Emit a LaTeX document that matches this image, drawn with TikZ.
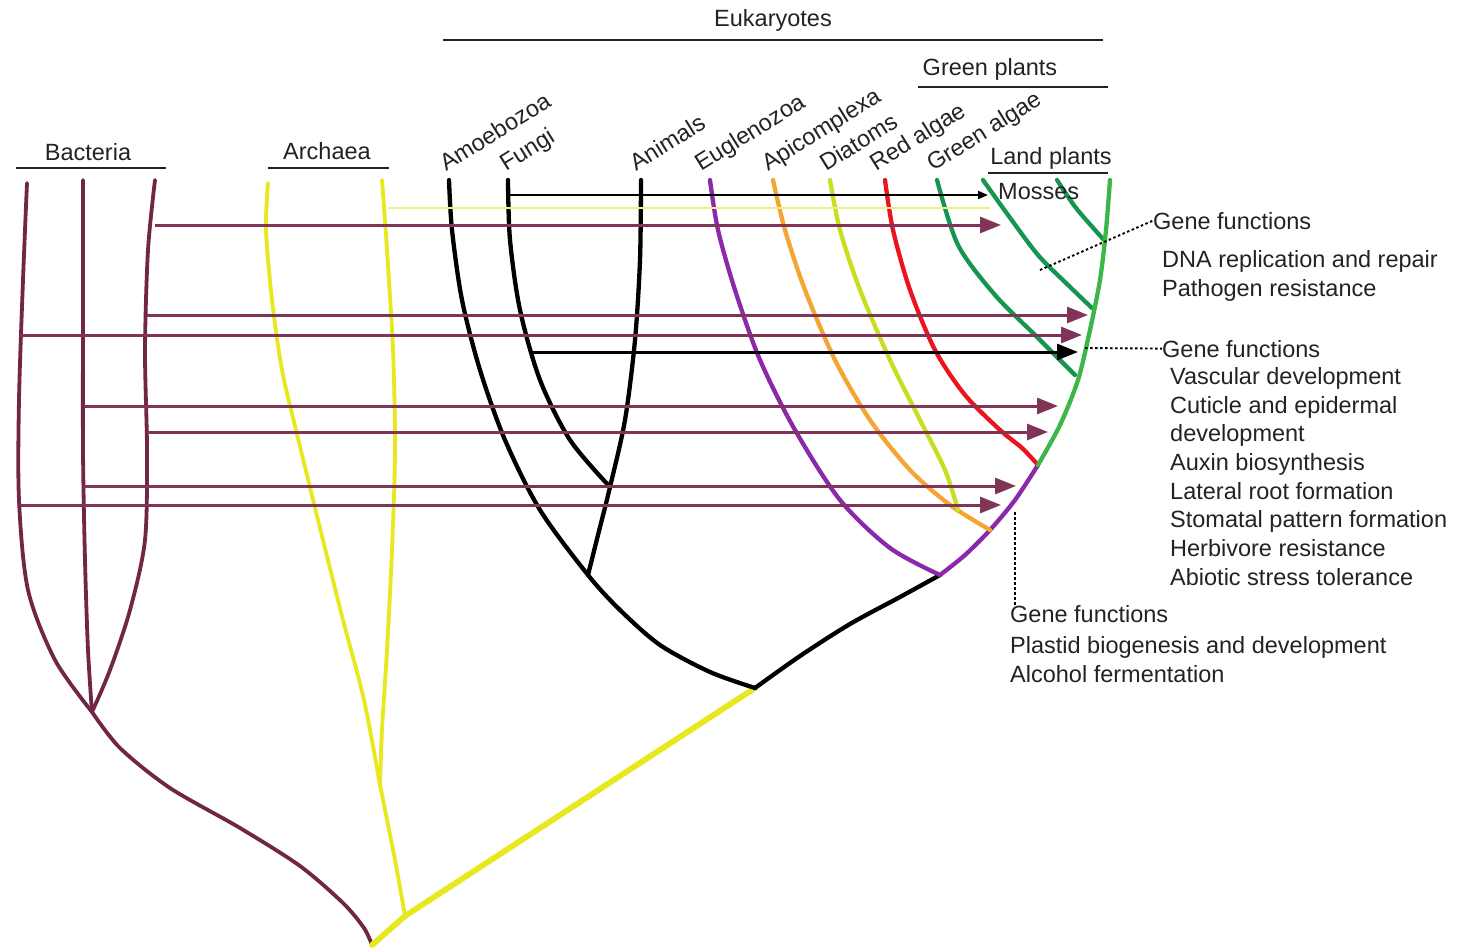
\documentclass[tikz,border=0pt]{standalone}
\usepackage{fontspec}
\setmainfont{Liberation Sans}
\usetikzlibrary{arrows.meta}
\definecolor{bact}{RGB}{112,38,68}
\definecolor{arr}{RGB}{128,52,88}
\definecolor{arch}{RGB}{232,232,30}
\definecolor{archpale}{RGB}{240,240,130}
\definecolor{purp}{RGB}{140,40,170}
\definecolor{oran}{RGB}{245,165,50}
\definecolor{diat}{RGB}{200,222,30}
\definecolor{reda}{RGB}{235,20,30}
\definecolor{dgreen}{RGB}{20,150,80}
\definecolor{lgreen}{RGB}{60,182,70}
\definecolor{txt}{RGB}{35,35,35}
\tikzset{
  lbl/.style={anchor=base west, inner sep=0pt, text=txt, font=\fontsize{23.5}{29}\selectfont},
  rlbl/.style={lbl, rotate=32},
  hdr/.style={anchor=base, inner sep=0pt, text=txt, font=\fontsize{23.5}{29}\selectfont},
  hline/.style={draw=txt, line width=1.8pt},
  br/.style={line width=4.3pt, line cap=round, line join=round},
  hgt/.style={draw=arr, line width=3pt, -{Triangle[length=21pt,width=16pt]}},
  blk/.style={draw=black, line width=3pt, -{Triangle[length=21pt,width=16pt]}},
  leader/.style={draw=black, line width=1.9pt, dash pattern=on 2.5pt off 2.5pt},
}
\begin{document}
\begin{tikzpicture}[x=1pt,y=-1pt]
\useasboundingbox (0,0) rectangle (1457,950);
\fill[white] (0,0) rectangle (1457,950);

% ---------- key coordinates ----------
\coordinate (R) at (372,945);
\coordinate (B0) at (92,712);
\coordinate (A0) at (405,916);
\coordinate (A1) at (380,785);
\coordinate (E0) at (755,688);
\coordinate (J1) at (588,575);
\coordinate (J2) at (610,487);
\coordinate (P0) at (940,575);
\coordinate (P1) at (990,530);
\coordinate (D0) at (958,510);
\coordinate (P2) at (1038,465);
\coordinate (G1) at (1075,375);
\coordinate (G2) at (1092,308);
\coordinate (G3) at (1104,240);

% ---------- Bacteria ----------
\draw[br, bact, line width=3.8pt] plot[smooth] coordinates {(27,183) (23,280) (19,400) (19,500) (28,590) (55,660) (B0)};
\draw[br, bact, line width=3.8pt] plot[smooth] coordinates {(83,180) (83,300) (83,450) (85,560) (88,650) (B0)};
\draw[br, bact, line width=3.8pt] plot[smooth] coordinates {(155,180) (148,250) (145,350) (147,450) (145,540) (130,610) (110,670) (B0)};
\draw[br, bact, line width=3.8pt] plot[smooth] coordinates {(B0) (120,748) (170,788) (240,828) (300,866) (343,903) (364,928) (R)};

% ---------- Archaea ----------
\draw[br, arch, line width=3.8pt] plot[smooth] coordinates {(268,183) (266,230) (272,300) (282,370) (296,430) (318,520) (343,620) (364,700) (A1)};
\draw[br, arch, line width=3.8pt] plot[smooth] coordinates {(382,180) (387,250) (393,350) (395,450) (392,550) (387,650) (382,730) (A1)};
\draw[br, arch, line width=3.8pt] plot[smooth] coordinates {(A1) (395,860) (A0)};
\draw[br, arch, line width=5.8pt] (R) -- (A0) -- (E0);

% ---------- Eukaryotes: black ----------
\draw[br, black] plot[smooth] coordinates {(449,180) (452,230) (462,300) (480,370) (505,440) (540,510) (J1) (620,610) (660,645) (710,672) (E0)};
\draw[br, black] plot[smooth] coordinates {(508,180) (510,240) (520,310) (540,380) (570,440) (J2)};
\draw[br, black] plot[smooth] coordinates {(641,180) (640,260) (635,340) (625,420) (J2) (598,535) (J1)};
\draw[br, black] plot[smooth] coordinates {(E0) (800,656) (850,624) (900,597) (P0)};

% ---------- purple / orange / diatoms / red ----------
\draw[br, purp] plot[smooth] coordinates {(710,180) (718,230) (735,290) (760,360) (795,430) (840,500) (890,548) (P0)};
\draw[br, purp] plot[smooth] coordinates {(P0) (965,555) (P1) (1015,500) (P2)};
\draw[br, oran] plot[smooth] coordinates {(773,180) (785,230) (805,290) (835,360) (870,420) (910,470) (950,505) (P1)};
\draw[br, diat] plot[smooth] coordinates {(830,180) (840,230) (860,290) (890,360) (920,420) (945,470) (D0)};
\draw[br, reda] plot[smooth] coordinates {(885,180) (893,230) (910,290) (935,350) (965,395) (1000,430) (1022,448) (P2)};

% ---------- green plants ----------
\draw[br, dgreen] plot[smooth] coordinates {(937,180) (958,245) (995,295) (1035,335) (G1)};
\draw[br, dgreen] plot[smooth] coordinates {(983,180) (1008,215) (1038,255) (1067,284) (G2)};
\draw[br, dgreen] plot[smooth] coordinates {(1057,180) (1076,208) (G3)};
\draw[br, lgreen] plot[smooth] coordinates {(P2) (1060,425) (1078,380) (1090,330) (1100,280) (1106,230) (1110,180)};

% ---------- transfer arrows ----------
\coordinate (s1) at (509,195);  \coordinate (e1) at (988,195);
\coordinate (s2) at (388,208);  \coordinate (e2) at (990,208);
\coordinate (s3) at (155,225);  \coordinate (e3) at (1001,225);
\coordinate (s4) at (147,315);  \coordinate (e4) at (1088,315);
\coordinate (s5) at (20,335);   \coordinate (e5) at (1082,335);
\coordinate (s6) at (530,352);  \coordinate (e6) at (1078,352);
\coordinate (s7) at (84,406);   \coordinate (e7) at (1058,406);
\coordinate (s8) at (147,432);  \coordinate (e8) at (1048,432);
\coordinate (s9) at (84,486);   \coordinate (e9) at (1016,486);
\coordinate (s10) at (20,505);  \coordinate (e10) at (1001,505);

\draw[draw=black, line width=1.8pt, -{Triangle[length=10pt,width=8pt]}] (s1) -- (e1);
\draw[draw=archpale, line width=2.6pt] (s2) -- (e2);
\draw[hgt] (s3) -- (e3);
\draw[hgt] (s4) -- (e4);
\draw[hgt] (s5) -- (e5);
\draw[blk] (s6) -- (e6);
\draw[hgt] (s7) -- (e7);
\draw[hgt] (s8) -- (e8);
\draw[hgt] (s9) -- (e9);
\draw[hgt] (s10) -- (e10);

% ---------- headers ----------
\node[hdr] (euk) at (773,27) {Eukaryotes};
\draw[hline] (443,40) -- (1103,40);
\node[hdr] (gp) at (990,76) {Green plants};
\draw[hline] (918,87) -- (1108,87);
\node[hdr] (lp) at (1051,164) {Land plants};
\draw[hline] (988,173) -- (1108,173);
\node[hdr] (bac) at (88,160) {Bacteria};
\draw[hline] (16,168) -- (166,168);
\node[hdr] (arc) at (327,159) {Archaea};
\draw[hline] (268,168) -- (389,168);

% ---------- clade labels ----------
\node[rlbl] (amo) at (446,172) {Amoebozoa};
\node[rlbl] (fun) at (506,172) {Fungi};
\node[rlbl] (ani) at (636,172) {Animals};
\node[rlbl] (eug) at (701,172) {Euglenozoa};
\node[rlbl] (api) at (768,172) {Apicomplexa};
\node[rlbl] (dia) at (826,172) {Diatoms};
\node[rlbl] (red) at (876,172) {Red algae};
\node[rlbl] (gre) at (933,172) {Green algae};
\node[lbl] (mos) at (998,199) {Mosses};

% ---------- gene function notes ----------
\node[lbl] (gf1) at (1153,229) {Gene functions};
\node[lbl] (g1a) at (1162,267) {DNA replication and repair};
\node[lbl] (g1b) at (1162,296) {Pathogen resistance};

\node[lbl] (gf2) at (1162,357) {Gene functions};
\node[lbl] (g2a) at (1170,384) {Vascular development};
\node[lbl] (g2b) at (1170,413) {Cuticle and epidermal};
\node[lbl] (g2c) at (1170,441) {development};
\node[lbl] (g2d) at (1170,470) {Auxin biosynthesis};
\node[lbl] (g2e) at (1170,499) {Lateral root formation};
\node[lbl] (g2f) at (1170,527) {Stomatal pattern formation};
\node[lbl] (g2g) at (1170,556) {Herbivore resistance};
\node[lbl] (g2h) at (1170,585) {Abiotic stress tolerance};

\node[lbl] (gf3) at (1010,622) {Gene functions};
\node[lbl] (g3a) at (1010,653) {Plastid biogenesis and development};
\node[lbl] (g3b) at (1010,682) {Alcohol fermentation};

% ---------- leaders ----------
\coordinate (l1) at (1040,270);
\coordinate (l2) at (1085,348);
\coordinate (l3) at (1015,512);
\draw[leader] (l1) -- (gf1.west);
\draw[leader] (l2) -- (gf2.west);
\draw[leader] (l3) -- (l3 |- gf3.north);
\end{tikzpicture}
\end{document}
